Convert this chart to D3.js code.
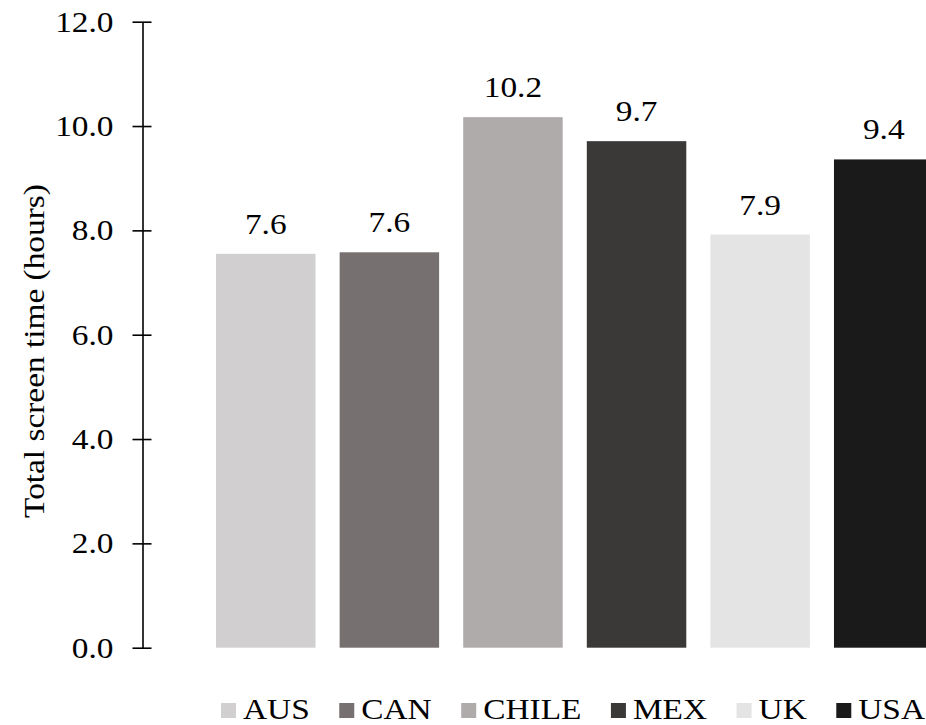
<!DOCTYPE html>
<html>
<head>
<meta charset="utf-8">
<script src="https://cdn.jsdelivr.net/npm/d3@7"></script>
<style>
html, body { margin: 0; padding: 0; background: #fff; overflow: hidden; }
svg { display: block; }
svg text { font-family: 'Liberation Serif', 'Times New Roman', serif !important; }
</style>
</head>
<body>
<svg id="chart" width="926" height="725"></svg>
<script>
const categories = ["AUS", "CAN", "CHILE", "MEX", "UK", "USA"];
const values = [7.55, 7.58, 10.17, 9.71, 7.92, 9.36];
const valueLabels = ["7.6", "7.6", "10.2", "9.7", "7.9", "9.4"];
const colors = ["#d1cfd0", "#767170", "#afabaa", "#3b3938", "#e4e4e4", "#1a1a1a"];
const yTicks = [0, 2, 4, 6, 8, 10, 12];
const yTitle = "Total screen time (hours)";

const svg = d3.select("#chart");
const fontSize = 29;
const sx = 1.15; // glyph widening along the baseline, as in the reference

const axisX = 142.5;
const y = d3.scaleLinear().domain([0, 12]).range([647.7, 21.7]);
const x = d3.scaleBand().domain(categories).range([axisX, 1007])
  .paddingInner(0.195).paddingOuter(0.595);
const color = d3.scaleOrdinal().domain(categories).range(colors);

// bars
svg.append("g").selectAll("rect").data(categories).join("rect")
  .attr("x", d => x(d))
  .attr("width", x.bandwidth())
  .attr("y", (d, i) => y(values[i]))
  .attr("height", (d, i) => y(0) - y(values[i]))
  .attr("fill", d => color(d));

// value labels
svg.append("g").selectAll("text").data(categories).join("text")
  .attr("transform", (d, i) => `translate(${x(d) + x.bandwidth() / 2},${y(values[i]) - 20}) scale(${sx},1)`)
  .attr("text-anchor", "middle")
  .attr("font-size", fontSize)
  .attr("fill", "#000")
  .text((d, i) => valueLabels[i]);

// y axis
const yAxis = d3.axisLeft(y).tickValues(yTicks).tickFormat(d3.format(".1f"))
  .tickSizeInner(10).tickSizeOuter(0).tickPadding(18);
const gy = svg.append("g").attr("transform", `translate(${axisX},0)`).call(yAxis);
gy.select(".domain").attr("stroke", "#000").attr("stroke-width", 1.6);
gy.selectAll(".tick line").attr("x1", -10).attr("x2", 9).attr("stroke", "#000").attr("stroke-width", 1.6);
gy.selectAll(".tick text").attr("font-size", fontSize)
  .attr("fill", "#000").attr("x", 0).attr("dy", "0.33em")
  .attr("transform", `translate(-29,0) scale(${sx},1)`);

// y title
svg.append("text")
  .attr("transform", `translate(44,351) rotate(-90) scale(${sx},1)`)
  .attr("text-anchor", "middle")
  .attr("font-size", fontSize)
  .attr("fill", "#000")
  .text(yTitle);

// legend
const legendStart = 221, legendEnd = 925, sq = 15, sqGap = 7, legendBaseline = 719;
const lg = svg.append("g");
const items = lg.selectAll("g").data(categories).join("g");
items.append("rect").attr("width", sq).attr("height", sq).attr("y", 703)
  .attr("fill", d => color(d));
items.append("text")
  .attr("transform", `translate(${sq + sqGap},${legendBaseline}) scale(${sx},1)`)
  .attr("font-size", fontSize).attr("fill", "#000").text(d => d);
const widths = [];
items.each(function() { widths.push(d3.select(this).select("text").node().getComputedTextLength() * sx); });
const totalContent = widths.reduce((a, w) => a + sq + sqGap + w, 0);
const gap = (legendEnd - legendStart - totalContent) / (categories.length - 1);
let cx = legendStart;
items.each(function(d, i) {
  d3.select(this).attr("transform", `translate(${cx},0)`);
  cx += sq + sqGap + widths[i] + gap;
});
</script>
</body>
</html>
